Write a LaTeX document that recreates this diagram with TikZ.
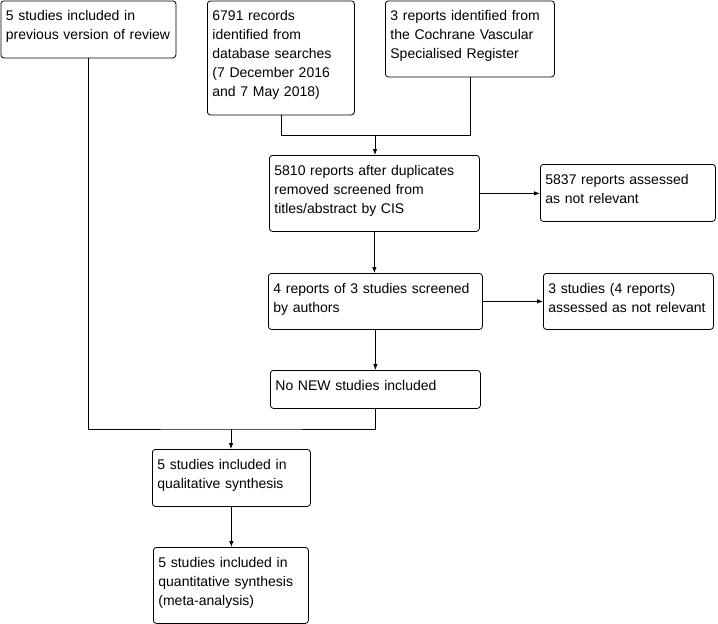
\documentclass[tikz,border=0pt]{standalone}
\usepackage{fontspec}
\setmainfont{Liberation Sans}
\usepackage{tikz}
\usetikzlibrary{arrows.meta,positioning,calc}

\begin{document}
\begin{tikzpicture}[
    x=1pt, y=-1pt, line width=0.8pt,
    box/.style 2 args={draw, rounded corners=3pt, anchor=north west, align=left,
        inner xsep=5pt, inner ysep=6pt, text height=14pt,
        text width=#1, text depth=#2, font=\fontsize{14}{19}\selectfont},
    arr/.style={-{Latex[length=6pt,width=4.5pt]}}
]
\useasboundingbox (0,0) rectangle (718,624);

% identification
\node[box={165pt}{31pt}] (prev) at (0.5,0.5) {5 studies included in\\previous version of review};
\node[box={137pt}{88pt}] (db) at (207,0.5) {6791 records\\identified from\\database searches\\(7 December 2016\\and 7 May 2018)};
\node[box={159pt}{50pt}] (reg) at (385,0.5) {3 reports identified from\\the Cochrane Vascular\\Specialised Register};

% screening
\node[box={200pt}{50pt}] (screen) at (269,155) {5810 reports after duplicates\\removed screened from\\titles/abstract by CIS};
\node[box={165pt}{31pt}] (excl1) at (540,164) {5837 reports assessed\\as not relevant};
\node[box={204pt}{30pt}] (full) at (268,273) {4 reports of 3 studies screened\\by authors};
\node[box={160pt}{30pt}] (excl2) at (543,273) {3 studies (4 reports)\\assessed as not relevant};
\node[box={200pt}{12pt}] (newinc) at (270,370) {No NEW studies included};

% included
\node[box={148pt}{31pt}] (qual) at (152,449) {5 studies included in\\qualitative synthesis};
\node[box={145pt}{50pt}] (quant) at (153,547) {5 studies included in\\quantitative synthesis\\(meta-analysis)};

\coordinate (join1) at (375,135);
\coordinate (join2) at (231,429);

\draw (db.south) |- (join1);
\draw (reg.south) |- (join1);
\draw[arr] (join1) -- (join1 |- screen.north);
\draw[arr] (screen.east) -- (screen.east -| excl1.west);
\draw[arr] (screen.south) -- (screen.south |- full.north);
\draw[arr] (full.east) -- (full.east -| excl2.west);
\draw[arr] (full.south) -- (full.south |- newinc.north);
\draw (prev.south) |- (join2) -| (newinc.south);
\draw[arr] (join2) -- (join2 |- qual.north);
\draw[arr] (qual.south) -- (qual.south |- quant.north);
\end{tikzpicture}
\end{document}
